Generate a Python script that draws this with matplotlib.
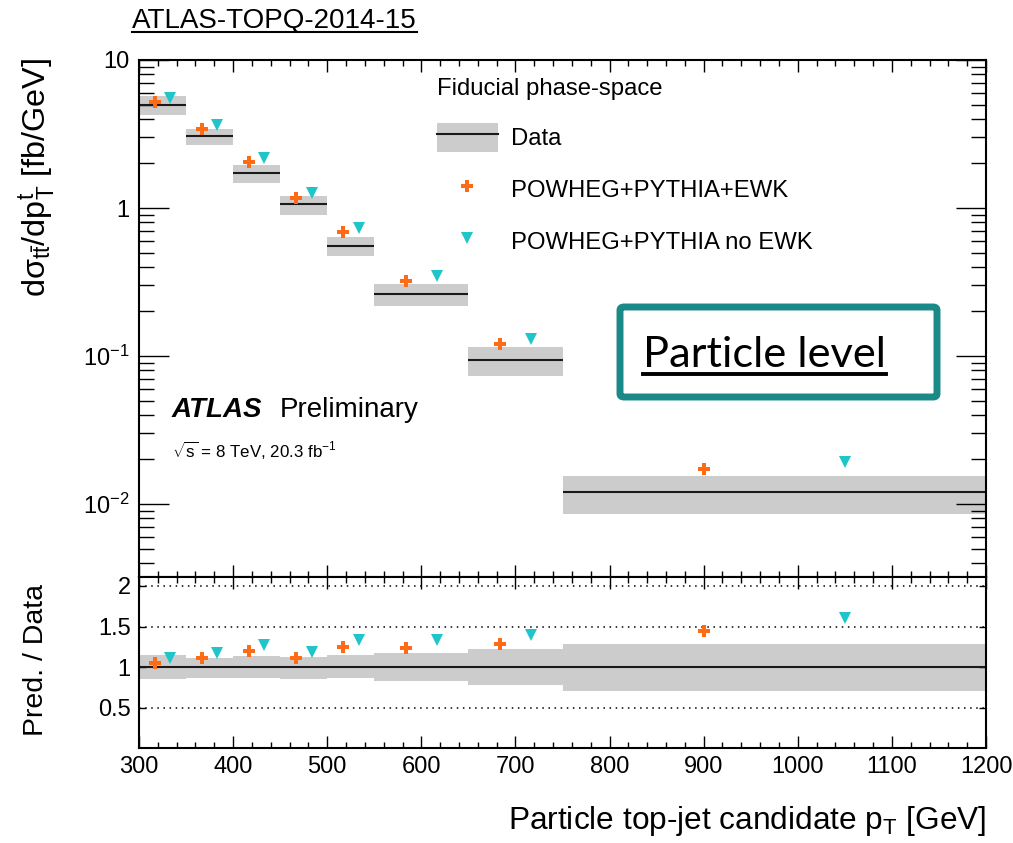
import numpy as np
import matplotlib
matplotlib.use("Agg")
from matplotlib import pyplot as plt
from matplotlib.patches import Patch, FancyBboxPatch
from matplotlib.lines import Line2D
from matplotlib.legend_handler import HandlerTuple
from matplotlib.ticker import FixedLocator, FixedFormatter, LogLocator, MultipleLocator, NullFormatter

plt.rcParams['font.family'] = ['Liberation Sans', 'DejaVu Sans']
plt.rcParams['mathtext.fontset'] = 'custom'
plt.rcParams['mathtext.rm'] = 'Liberation Sans'
plt.rcParams['mathtext.it'] = 'Liberation Sans:italic'
plt.rcParams['mathtext.bf'] = 'Liberation Sans:bold'

# bins in particle top-jet pT [GeV]
bin_lo = [300, 350, 400, 450, 500, 550, 650, 750]
bin_hi = [350, 400, 450, 500, 550, 650, 750, 1200]

# measured cross section [fb/GeV] and relative total uncertainty band
data = [4.97, 3.07, 1.72, 1.06, 0.553, 0.263, 0.094, 0.0120]
band_up = [1.15, 1.11, 1.135, 1.13, 1.15, 1.17, 1.22, 1.28]
band_dn = [0.85, 0.865, 0.86, 0.85, 0.86, 0.83, 0.78, 0.71]

# prediction / data
ratio_ewk = [1.053, 1.107, 1.193, 1.107, 1.242, 1.23, 1.28, 1.447]
ratio_noewk = [1.11, 1.176, 1.27, 1.19, 1.33, 1.33, 1.39, 1.60]

ORANGE = '#ff6a14'
CYAN = '#1fc5c8'
GREY = '#cccccc'
TEAL = '#198a87'

lo = np.array(bin_lo, float)
hi = np.array(bin_hi, float)
w = hi - lo
d = np.array(data)
x_ewk = lo + w / 3.0
x_noewk = lo + 2.0 * w / 3.0

W, H = 1013, 843
fig = plt.figure(figsize=(W / 100, H / 100), dpi=100)

def fx(px):
    return px / W

def fy(py):
    return 1 - py / H

ax = fig.add_axes([fx(139), fy(577), fx(986) - fx(139), fy(60) - fy(577)])
rx = fig.add_axes([fx(139), fy(748), fx(986) - fx(139), fy(577) - fy(748)])

# ---- upper pad
ax.bar(lo, d * (np.array(band_up) - np.array(band_dn)), bottom=d * np.array(band_dn),
       width=w, align='edge', color=GREY, lw=0, zorder=1)
ax.hlines(d, lo, hi, color='#1a1a1a', lw=1.5, zorder=2)
ax.plot(x_ewk, d * np.array(ratio_ewk), ls='none', marker='P', ms=9, mew=0,
        color=ORANGE, zorder=3)
ax.plot(x_noewk, d * np.array(ratio_noewk), ls='none', marker='v', ms=9, mew=0,
        color=CYAN, zorder=3)
ax.set_yscale('log')
ax.set_xlim(300, 1200)
ax.set_ylim(10 ** -2.493, 10)
ax.yaxis.set_major_locator(FixedLocator([0.01, 0.1, 1, 10]))
ax.yaxis.set_major_formatter(FixedFormatter([r'$\mathregular{10^{-2}}$', r'$\mathregular{10^{-1}}$', '1', '10']))
ax.yaxis.set_minor_locator(LogLocator(base=10, subs=np.arange(2, 10)))
ax.yaxis.set_minor_formatter(NullFormatter())
ax.xaxis.set_major_locator(MultipleLocator(100))
ax.xaxis.set_minor_locator(MultipleLocator(20))
ax.tick_params(axis='x', which='major', direction='in', length=8.6, width=1, top=True, bottom=True, labelbottom=False)
ax.tick_params(axis='x', which='minor', direction='in', length=4.3, width=1, top=True, bottom=True)
ax.tick_params(axis='y', which='major', direction='in', length=21.6, width=1, left=True, right=True, labelsize=17, pad=7)
ax.tick_params(axis='y', which='minor', direction='in', length=10.8, width=1, left=True, right=True)
for s in ax.spines.values():
    s.set_linewidth(1.5)

# legend
h_data = (Patch(facecolor=GREY, edgecolor='none'), Line2D([], [], color='#1a1a1a', lw=1.5))
h_ewk = Line2D([], [], ls='none', marker='P', ms=9, mew=0, color=ORANGE)
h_noewk = Line2D([], [], ls='none', marker='v', ms=9, mew=0, color=CYAN)
leg = ax.legend([h_data, h_ewk, h_noewk],
                ['Data', 'POWHEG+PYTHIA+EWK', 'POWHEG+PYTHIA no EWK'],
                handler_map={tuple: HandlerTuple(ndivide=1, pad=0)},
                title='Fiducial phase-space', title_fontsize=17.2, fontsize=17.2,
                frameon=False, loc='upper left', bbox_to_anchor=(fx(437), fy(78)),
                bbox_transform=fig.transFigure, borderpad=0, borderaxespad=0,
                handlelength=2.55, handleheight=1.5, labelspacing=0.95,
                handletextpad=0.55, alignment='left')

fig.text(fx(172), fy(417), 'ATLAS', fontsize=20, fontweight='bold', fontstyle='italic')
fig.text(fx(280), fy(417), 'Preliminary', fontsize=20)
fig.text(fx(172), fy(458), r'$\sqrt{\mathregular{s}}$ = 8 TeV, 20.3 fb$^{\mathregular{-1}}$', fontsize=12.2)

# ---- ratio pad
rx.bar(lo, np.array(band_up) - np.array(band_dn), bottom=band_dn, width=w, align='edge',
       color=GREY, lw=0, zorder=1)
rx.hlines(np.ones(len(lo)), lo, hi, color='#1a1a1a', lw=1.5, zorder=2)
for g in [0.5, 1.5, 2.0]:
    rx.axhline(g, color='black', lw=1.1, ls=(0, (1, 3)), zorder=0.5)
rx.plot(x_ewk, ratio_ewk, ls='none', marker='P', ms=9, mew=0, color=ORANGE, zorder=3)
rx.plot(x_noewk, ratio_noewk, ls='none', marker='v', ms=9, mew=0, color=CYAN, zorder=3)
rx.set_xlim(300, 1200)
rx.set_ylim(0.003, 2.11)
rx.yaxis.set_major_locator(FixedLocator([0.5, 1, 1.5, 2]))
rx.yaxis.set_major_formatter(FixedFormatter(['0.5', '1', '1.5', '2']))
rx.xaxis.set_major_locator(MultipleLocator(100))
rx.xaxis.set_minor_locator(MultipleLocator(20))
rx.tick_params(axis='x', which='major', direction='in', length=8.6, width=1, top=True, bottom=True, labelsize=17, pad=6)
rx.tick_params(axis='x', which='minor', direction='in', length=4.3, width=1, top=True, bottom=True)
rx.tick_params(axis='y', which='major', direction='in', length=5, width=1, left=True, right=True, labelsize=17, pad=6)
for s in rx.spines.values():
    s.set_linewidth(1.5)

# ---- axis titles
fig.text(fx(37), fy(58), r'd$\mathregular{\sigma_{t\bar{t}}}$/dp$_{\mathregular{T}}^{\mathregular{t}}$ [fb/GeV]',
         rotation=90, ha='center', va='top', fontsize=23.3)
fig.text(fx(36), fy(584), 'Pred. / Data', rotation=90, ha='center', va='top', fontsize=20.5)
fig.text(fx(986), fy(829), r'Particle top-jet candidate p$_{\mathregular{T}}$ [GeV]',
         ha='right', va='baseline', fontsize=22.8)

# ---- header and annotation box
title = fig.text(fx(132), fy(28), 'ATLAS-TOPQ-2014-15', fontsize=20, va='baseline')
box = FancyBboxPatch((fx(620), fy(397)), fx(937) - fx(620), fy(307) - fy(397),
                     boxstyle='round,pad=0,rounding_size=0.004', transform=fig.transFigure,
                     facecolor='white', edgecolor=TEAL, lw=5, zorder=5)
fig.patches.append(box)
plabel = fig.text(fx(643), fy(367), 'Particle level', fontsize=31.2, family='Lato',
                  va='baseline', zorder=6)

fig.canvas.draw()
r = fig.canvas.get_renderer()
for t, ypx, lw in [(title, 32, 1.5), (plabel, 374, 2.8)]:
    bb = t.get_window_extent(r)
    fig.add_artist(Line2D([bb.x0 / W, bb.x1 / W], [fy(ypx), fy(ypx)],
                          transform=fig.transFigure, color='black', lw=lw, zorder=7))

fig.savefig('out.png', dpi=100)
